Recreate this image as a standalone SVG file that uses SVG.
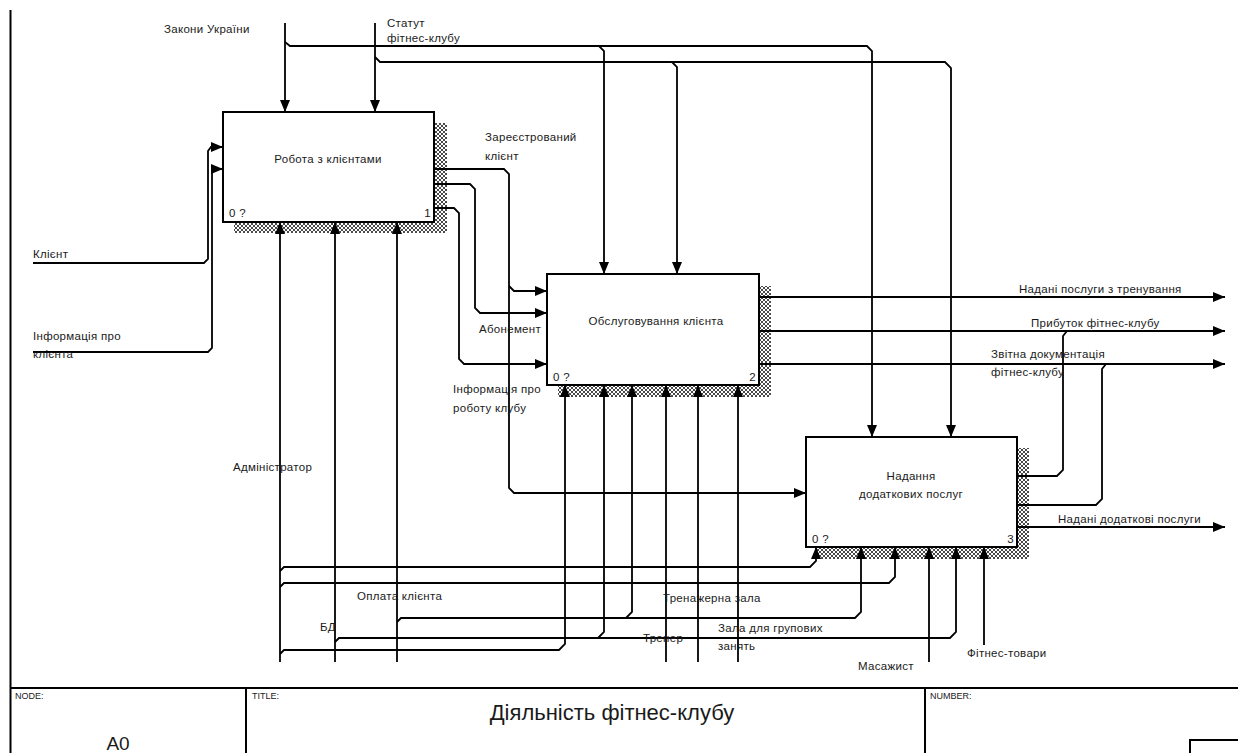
<svg xmlns="http://www.w3.org/2000/svg" width="1238" height="753" viewBox="0 0 1238 753">
  <defs>
    <pattern id="hatch" width="4" height="4" patternUnits="userSpaceOnUse">
      <rect width="4" height="4" fill="#fff"/>
      <path d="M0,0 L4,4 M4,0 L0,4" stroke="#4a4a4a" stroke-width="1"/>
    </pattern>
    <marker id="arr" viewBox="0 0 12 10" refX="12" refY="5" markerWidth="12" markerHeight="10" markerUnits="userSpaceOnUse" orient="auto">
      <path d="M0,0 L12,5 L0,10 Z" fill="#000"/>
    </marker>
    <style>
      .ln { fill: none; stroke: #000; stroke-width: 1.8; }
      .ar { marker-end: url(#arr); }
      .box { fill: #fff; stroke: #000; stroke-width: 2; }
      .sh { fill: url(#hatch); }
      .t { font-family: "Liberation Sans", Arial, sans-serif; font-size: 11.5px; letter-spacing: 0.3px; fill: #1a1a1a; }
      .c { text-anchor: middle; }
      .e { text-anchor: end; }
      .sm { font-family: "Liberation Sans", Arial, sans-serif; font-size: 9px; fill: #1a1a1a; }
      .fr { fill: none; stroke: #000; stroke-width: 2; }
    </style>
  </defs>
  <rect width="1238" height="753" fill="#fff"/>

  <g id="frame">
    <line class="fr" x1="10.5" y1="10" x2="10.5" y2="753" stroke-width="2.5"/>
    <line class="fr" x1="10" y1="688" x2="1238" y2="688"/>
    <line class="fr" x1="246" y1="688" x2="246" y2="753"/>
    <line class="fr" x1="925" y1="688" x2="925" y2="753"/>
    <rect class="fr" x="1190" y="740" width="50" height="16" stroke-width="1.5"/>
    <text class="sm" x="15" y="699">NODE:</text>
    <text class="sm" x="252" y="699">TITLE:</text>
    <text class="sm" x="930" y="699">NUMBER:</text>
    <text x="612" y="720" text-anchor="middle" font-family="'Liberation Sans', Arial, sans-serif" font-size="22" fill="#1a1a1a">Діяльність фітнес-клубу</text>
    <text x="118" y="750" text-anchor="middle" font-family="'Liberation Sans', Arial, sans-serif" font-size="19" fill="#1a1a1a">A0</text>
  </g>

  <g id="node-1">
    <rect class="sh" x="234" y="123" width="213" height="110"/>
    <rect class="box" x="223" y="112" width="211" height="110"/>
    <text class="t c" x="328" y="163">Робота з клієнтами</text>
    <text class="t" x="229" y="217">0 ?</text>
    <text class="t e" x="431" y="217">1</text>
  </g>

  <g id="node-2">
    <rect class="sh" x="558" y="286" width="213" height="111"/>
    <rect class="box" x="547" y="274" width="212" height="111"/>
    <text class="t c" x="656" y="325">Обслуговування клієнта</text>
    <text class="t" x="553" y="381">0 ?</text>
    <text class="t e" x="756" y="381">2</text>
  </g>

  <g id="node-3">
    <rect class="sh" x="817" y="448" width="212" height="111"/>
    <rect class="box" x="806" y="437" width="211" height="110"/>
    <text class="t c" x="911" y="480">Надання</text>
    <text class="t c" x="911" y="498">додаткових послуг</text>
    <text class="t" x="812" y="543">0 ?</text>
    <text class="t e" x="1014" y="543">3</text>
  </g>

  <g id="connectors">
    <path class="ln ar" d="M285,23 V112"/>
    <path class="ln ar" d="M285,42 L290,46 H867 L872,51 V437"/>
    <path class="ln ar" d="M599,46 L604,51 V274"/>
    <path class="ln ar" d="M375,23 V112"/>
    <path class="ln ar" d="M375,57 L380,62 H945 L951,68 V437"/>
    <path class="ln ar" d="M672,62 L677,67 V274"/>

    <path class="ln ar" d="M33,263 H204 L208,259 V151 L211,147 H223"/>
    <path class="ln ar" d="M33,352 H208 L212,348 V173 L215,169 H223"/>

    <path class="ln ar" d="M434,169 H504 L509,174 V488 L514,493 H806"/>
    <path class="ln ar" d="M509,286 L514,291 H547"/>
    <path class="ln ar" d="M434,184 H470 L475,189 V308 L480,313 H547"/>
    <path class="ln ar" d="M434,208 H454 L459,213 V359 L464,364 H547"/>

    <path class="ln ar" d="M759,297 H1225"/>
    <path class="ln ar" d="M759,331 H1225"/>
    <path class="ln ar" d="M759,364 H1225"/>

    <path class="ln" d="M1017,476 H1057 L1063,470 V336 L1067,331"/>
    <path class="ln" d="M1017,505 H1096 L1102,499 V369 L1106,364"/>
    <path class="ln ar" d="M1017,527 H1225"/>

    <path class="ln ar" d="M280,662 V222"/>
    <path class="ln ar" d="M280,571 L284,567 H810 L816,561 V547"/>
    <path class="ln ar" d="M280,587 L284,583 H889 L895,577 V547"/>
    <path class="ln ar" d="M280,654 L284,650 H559 L565,644 V385"/>
    <path class="ln ar" d="M335,662 V222"/>
    <path class="ln ar" d="M335,642 L339,638 H950 L956,632 V547"/>
    <path class="ln ar" d="M598,638 L604,632 V385"/>
    <path class="ln ar" d="M397,662 V222"/>
    <path class="ln ar" d="M397,622 L401,618 H855 L861,612 V547"/>
    <path class="ln ar" d="M626,618 L632,612 V385"/>
    <path class="ln ar" d="M666,662 V385"/>
    <path class="ln ar" d="M698,662 V385"/>
    <path class="ln ar" d="M738,662 V385"/>
    <path class="ln ar" d="M929,662 V547"/>
    <path class="ln ar" d="M984,645 V547"/>
  </g>

  <g id="labels">
    <text class="t" x="164" y="33">Закони України</text>
    <text class="t" x="387" y="27">Статут</text>
    <text class="t" x="387" y="42">фітнес-клубу</text>
    <text class="t" x="485" y="141">Зареєстрований</text>
    <text class="t" x="485" y="160">клієнт</text>
    <text class="t" x="33" y="258">Клієнт</text>
    <text class="t" x="33" y="340">Інформація про</text>
    <text class="t" x="33" y="358">клієнта</text>
    <text class="t" x="479" y="333">Абонемент</text>
    <text class="t" x="453" y="393">Інформація про</text>
    <text class="t" x="453" y="412">роботу клубу</text>
    <text class="t" x="1019" y="293">Надані послуги з тренування</text>
    <text class="t" x="1031" y="327">Прибуток фітнес-клубу</text>
    <text class="t" x="991" y="358">Звітна документація</text>
    <text class="t" x="991" y="376">фітнес-клубу</text>
    <text class="t" x="233" y="471">Адміністратор</text>
    <text class="t" x="1058" y="523">Надані додаткові послуги</text>
    <text class="t" x="357" y="600">Оплата клієнта</text>
    <text class="t" x="320" y="631">БД</text>
    <text class="t" x="663" y="602">Тренажерна зала</text>
    <text class="t" x="643" y="642">Тренер</text>
    <text class="t" x="718" y="632">Зала для групових</text>
    <text class="t" x="718" y="650">занять</text>
    <text class="t" x="858" y="670">Масажист</text>
    <text class="t" x="967" y="657">Фітнес-товари</text>
  </g>
</svg>
